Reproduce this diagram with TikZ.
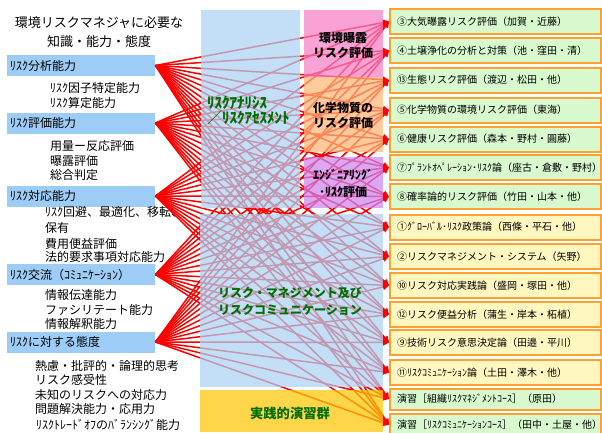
\documentclass[tikz,border=0pt]{standalone}
\usepackage{fontspec}
\setmainfont{Noto Sans CJK JP}
\usetikzlibrary{arrows.meta}
\definecolor{lboxc}{RGB}{157,205,247}
\definecolor{pblue}{RGB}{171,211,245}
\definecolor{ppink}{RGB}{248,127,198}
\definecolor{porange}{RGB}{255,182,119}
\definecolor{ppurple}{RGB}{205,134,241}
\definecolor{pyellow}{RGB}{255,199,5}
\definecolor{rgreen}{RGB}{216,248,206}
\definecolor{ryellow}{RGB}{255,246,192}
\definecolor{rborder}{RGB}{255,160,50}
\definecolor{tgreen}{RGB}{0,110,0}
\definecolor{lred}{RGB}{255,0,0}
\tikzset{
  lbox/.style={fill=lboxc, draw=none, minimum width=148pt, minimum height=21pt,
    text width=142pt, inner xsep=3pt, inner ysep=0pt, anchor=west, align=left,
    font=\fontsize{12}{14}\selectfont},
  itemtxt/.style={anchor=west, inner sep=0pt, font=\fontsize{12}{14}\selectfont},
  rbox/.style={draw=rborder, line width=2pt, minimum height=25pt, text width=197pt,
    inner xsep=7pt, inner ysep=0pt, anchor=west, align=left,
    font=\fontsize{10}{12}\selectfont},
  conn/.style={draw=lred, line width=1.5pt, -{Triangle[length=6pt,width=6pt]}},
  panelfill/.style={fill opacity=0.72},
  ptext/.style={inner sep=0pt, align=center, font=\fontsize{12}{15}\selectfont\bfseries},
  gtext/.style={inner sep=0pt, text=tgreen, font=\bfseries},
}
\begin{document}
\begin{tikzpicture}[x=1pt,y=-1pt]
\useasboundingbox (0,0) rectangle (602,432);
\fill[white] (0,0) rectangle (602,432);
% title
\node[inner sep=0pt, font=\fontsize{13}{15}\selectfont] (t1) at (99,23) {環境リスクマネジャに必要な};
\node[inner sep=0pt, font=\fontsize{13}{15}\selectfont] (t2) at (99,42) {知識・能力・態度};
% left boxes
\node[lbox] (L1) at (7,65.5) {ﾘｽｸ分析能力};
\node[lbox] (L2) at (7,123) {ﾘｽｸ評価能力};
\node[lbox] (L3) at (7,196) {ﾘｽｸ対応能力};
\node[lbox] (L4) at (7,274.5) {ﾘｽｸ交流（ｺﾐｭﾆｹｰｼｮﾝ）};
\node[lbox] (L5) at (7,342) {ﾘｽｸに対する態度};
% sub items
\node[itemtxt] (a1) at (50,88) {ﾘｽｸ因子特定能力};
\node[itemtxt] (a2) at (50,102.5) {ﾘｽｸ算定能力};
\node[itemtxt] (b1) at (50,145.5) {用量ー反応評価};
\node[itemtxt] (b2) at (50,160.5) {曝露評価};
\node[itemtxt] (b3) at (50,175) {総合判定};
\node[itemtxt] (c1) at (45,212) {ﾘｽｸ回避、最適化、移転、};
\node[itemtxt] (c2) at (45,228) {保有};
\node[itemtxt] (c3) at (45,244) {費用便益評価};
\node[itemtxt] (c4) at (45,257) {法的要求事項対応能力};
\node[itemtxt] (d1) at (45,295) {情報伝達能力};
\node[itemtxt] (d2) at (45,309.5) {ファシリテート能力};
\node[itemtxt] (d3) at (45,324) {情報解釈能力};
\node[itemtxt] (e1) at (35,366) {熱慮・批評的・論理的思考};
\node[itemtxt] (e2) at (35,380) {リスク感受性};
\node[itemtxt] (e3) at (35,395) {未知のリスクへの対応力};
\node[itemtxt] (e4) at (35,409) {問題解決能力・応用力};
\node[itemtxt] (e5) at (36,425) {ﾘｽｸﾄﾚｰﾄﾞｵﾌのﾊﾞﾗﾝｼﾝｸﾞ能力};
% right boxes
\node[rbox, fill=rgreen] (R1) at (389,21.5) {③大気曝露リスク評価（加賀・近藤）};
\node[rbox, fill=rgreen] (R2) at (389,50.5) {④土壌浄化の分析と対策（池・窪田・清）};
\node[rbox, fill=rgreen] (R3) at (389,80) {⑬生態リスク評価（渡辺・松田・他）};
\node[rbox, fill=rgreen] (R4) at (389,110) {⑤化学物質の環境リスク評価（東海）};
\node[rbox, fill=rgreen] (R5) at (389,139) {⑥健康リスク評価（森本・野村・圓藤）};
\node[rbox, fill=rgreen] (R6) at (389,167.5) {⑦ﾌﾟﾗﾝﾄｵﾍﾟﾚｰｼｮﾝ･ﾘｽｸ論（座古・倉敷・野村）};
\node[rbox, fill=rgreen] (R7) at (389,196.5) {⑧確率論的リスク評価（竹田・山本・他）};
\node[rbox, fill=ryellow] (R8) at (389,227) {①ｸﾞﾛｰﾊﾞﾙ･ﾘｽｸ政策論（西條・平石・他）};
\node[rbox, fill=ryellow] (R9) at (389,256.5) {②リスクマネジメント・システム（矢野）};
\node[rbox, fill=ryellow] (R10) at (389,285.5) {⑩リスク対応実践論（盛岡・塚田・他）};
\node[rbox, fill=ryellow] (R11) at (389,314.5) {⑫リスク便益分析（蒲生・岸本・柘植）};
\node[rbox, fill=ryellow] (R12) at (389,342.5) {⑨技術リスク意思決定論（田邉・平川）};
\node[rbox, fill=ryellow] (R13) at (389,372.5) {⑪ﾘｽｸｺﾐｭﾆｹｰｼｮﾝ論（土田・澤木・他）};
\node[rbox, fill=rgreen, minimum height=21pt] (R14) at (389,399) {演習［組織ﾘｽｸﾏﾈｼﾞﾒﾝﾄｺｰｽ］（原田）};
\node[rbox, fill=rgreen, minimum height=23pt] (R15) at (389,425) {演習［ﾘｽｸｺﾐｭﾆｹｰｼｮﾝｺｰｽ］（田中・土屋・他）};
% connectors
\foreach \i in {1,...,5}{
  \foreach \j in {1,...,15}{
    \draw[conn] (L\i.east) -- (R\j.west);
  }
}
% translucent panels
\fill[pblue, panelfill] (201,10) rectangle (300,208);
\fill[ppink, panelfill] (304,10) rectangle (383,77);
\fill[porange, panelfill] (304,77) rectangle (383,152);
\fill[ppurple, panelfill] (304,157) rectangle (383,208);
\fill[pblue, panelfill] (200,214) rectangle (383,387);
\fill[pyellow, panelfill] (200,390) rectangle (383,432);
% panel texts
\node[gtext, anchor=west, align=left, font=\fontsize{15}{15}\selectfont\bfseries] (m1) at (207,110.5) {ﾘｽｸｱﾅﾘｼｽ\\／ﾘｽｸｱｾｽﾒﾝﾄ};
\node[ptext] (m2) at (343,45) {環境曝露\\リスク評価};
\node[ptext] (m3) at (343,115.5) {化学物質の\\リスク評価};
\node[ptext, font=\fontsize{12}{17}\selectfont\bfseries] (m4) at (343,183.5) {ｴﾝｼﾞﾆｱﾘﾝｸﾞ\\･ﾘｽｸ評価};
\node[gtext, align=center, font=\fontsize{12}{17}\selectfont\bfseries] (m5) at (290,301.5) {リスク・マネジメント及び\\リスクコミュニケーション};
\node[gtext, font=\fontsize{13.3}{15}\selectfont\bfseries] (m6) at (290,413) {実践的演習群};
\end{tikzpicture}
\end{document}
